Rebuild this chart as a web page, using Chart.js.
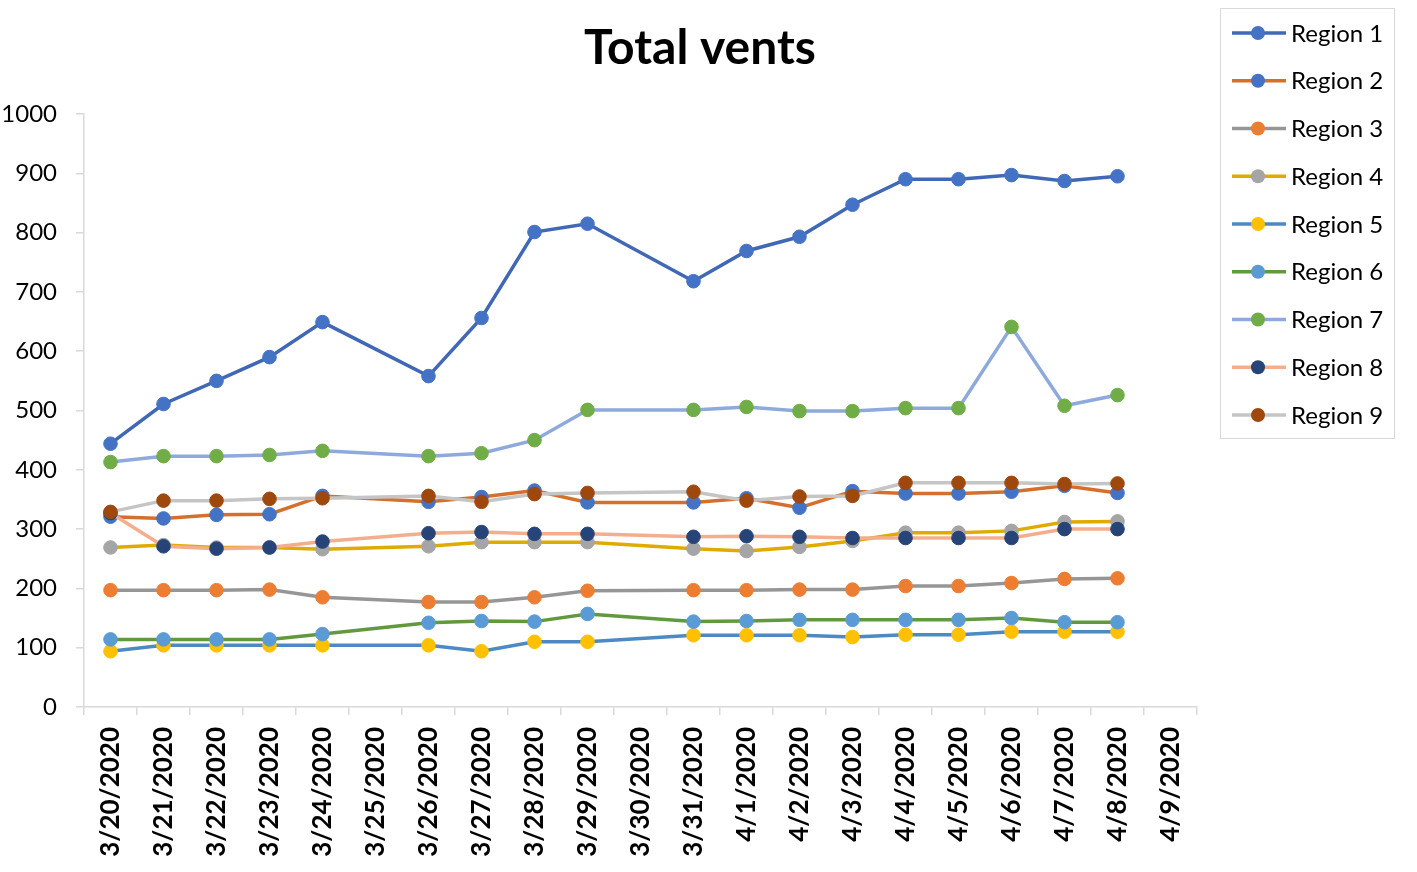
<!DOCTYPE html>
<html>
<head>
<meta charset="utf-8">
<title>Total vents</title>
<script src="https://cdn.jsdelivr.net/npm/chart.js@4.4.1/dist/chart.umd.min.js"></script>
<style>
    body { margin: 0; background: #ffffff; }
    #wrap { width: 1417px; height: 872px; }
</style>
</head>
<body>
<div id="wrap"><canvas id="ventsChart" width="1417" height="872"></canvas></div>
<script>
const chartTitle = "Total vents";

const dates = [
    "3/20/2020", "3/21/2020", "3/22/2020", "3/23/2020", "3/24/2020", "3/25/2020", "3/26/2020",
    "3/27/2020", "3/28/2020", "3/29/2020", "3/30/2020", "3/31/2020", "4/1/2020", "4/2/2020",
    "4/3/2020", "4/4/2020", "4/5/2020", "4/6/2020", "4/7/2020", "4/8/2020", "4/9/2020"
];

const seriesNames = ["Region 1", "Region 2", "Region 3", "Region 4", "Region 5", "Region 6", "Region 7", "Region 8", "Region 9"];

// no data for 3/25, 3/30 and 4/9
const region1 = [444, 511, 550, 590, 649, null, 558, 656, 801, 815, null, 718, 769, 793, 847, 890, 890, 897, 887, 895, null];
const region2 = [321, 318, 324, 325, 356, null, 346, 354, 365, 345, null, 345, 352, 336, 364, 360, 360, 363, 373, 361, null];
const region3 = [197, 197, 197, 198, 185, null, 177, 177, 185, 196, null, 197, 197, 198, 198, 204, 204, 209, 216, 217, null];
const region4 = [269, 273, 269, 269, 266, null, 271, 278, 278, 278, null, 267, 263, 270, 280, 294, 294, 297, 312, 313, null];
const region5 = [94, 104, 104, 104, 104, null, 104, 94, 110, 110, null, 121, 121, 121, 118, 122, 122, 127, 127, 127, null];
const region6 = [114, 114, 114, 114, 123, null, 142, 145, 144, 157, null, 144, 145, 147, 147, 147, 147, 150, 143, 143, null];
const region7 = [413, 423, 423, 425, 432, null, 423, 428, 450, 501, null, 501, 506, 499, 499, 504, 504, 641, 508, 526, null];
const region8 = [327, 271, 267, 269, 279, null, 293, 295, 292, 292, null, 287, 288, 287, 285, 285, 285, 285, 300, 300, null];
const region9 = [329, 348, 348, 351, 352, null, 356, 346, 359, 361, null, 363, 348, 355, 356, 378, 378, 378, 376, 377, null];

const allSeries = [region1, region2, region3, region4, region5, region6, region7, region8, region9];

const lineColors = ["#4068B4", "#D4702C", "#969696", "#E0AB00", "#4D89C2", "#63993D", "#8EA9DB", "#F4AE8D", "#C5C5C5"];
const markerColors = ["#4472C4", "#4472C4", "#ED7D31", "#A5A5A5", "#FFC000", "#5B9BD5", "#70AD47", "#264478", "#9E480E"];

const axisGray = "#D9D9D9";

// title + boxed legend drawn by hand (legend shows line and marker together)
const titleAndLegend = {
    id: "titleAndLegend",
    afterDraw(chart) {
        const ctx = chart.ctx;
        ctx.save();

        ctx.fillStyle = "#000000";
        ctx.font = "bold 48px Lato";
        ctx.textAlign = "center";
        ctx.textBaseline = "alphabetic";
        ctx.fillText(chartTitle, 700, 64);

        ctx.strokeStyle = axisGray;
        ctx.lineWidth = 1;
        ctx.strokeRect(1220.5, 8.5, 174, 430);

        ctx.font = "24px Lato";
        ctx.textAlign = "left";
        ctx.textBaseline = "middle";
        chart.data.datasets.forEach((ds, i) => {
            const y = 33 + i * 47.75;
            ctx.strokeStyle = lineColors[i];
            ctx.lineWidth = 3.5;
            ctx.beginPath();
            ctx.moveTo(1232, y);
            ctx.lineTo(1286, y);
            ctx.stroke();

            ctx.fillStyle = markerColors[i];
            ctx.beginPath();
            ctx.arc(1258, y, 7, 0, Math.PI * 2);
            ctx.fill();

            ctx.fillStyle = "#000000";
            ctx.fillText(ds.label, 1291, y + 1);
        });
        ctx.restore();
    }
};

function buildChart() {
    Chart.defaults.font.family = "Lato";

    const datasets = allSeries.map((values, i) => ({
        label: seriesNames[i],
        data: values,
        borderColor: lineColors[i],
        backgroundColor: markerColors[i],
        borderWidth: 3.5,
        pointRadius: 6.8,
        pointHoverRadius: 6.8,
        pointBackgroundColor: markerColors[i],
        pointBorderColor: markerColors[i],
        pointBorderWidth: 1,
        tension: 0,
        spanGaps: true,
        // later series sit on top, as in the original
        order: allSeries.length - i
    }));

    new Chart(document.getElementById("ventsChart"), {
        type: "line",
        data: {
            labels: dates,
            datasets: datasets
        },
        options: {
            responsive: false,
            animation: false,
            layout: {
                padding: { top: 114, right: 220, bottom: 0, left: 0 }
            },
            plugins: {
                title: { display: false },
                legend: { display: false },
                tooltip: { enabled: false }
            },
            scales: {
                x: {
                    offset: true,
                    grid: {
                        offset: true,
                        drawOnChartArea: false,
                        drawTicks: true,
                        tickLength: 8,
                        color: axisGray,
                        lineWidth: 1.5
                    },
                    border: { color: axisGray, width: 1.5 },
                    ticks: {
                        autoSkip: false,
                        minRotation: 90,
                        maxRotation: 90,
                        padding: 12,
                        color: "#000000",
                        font: { size: 26, weight: "bold" }
                    },
                    afterFit: scale => { scale.height = 165; }
                },
                y: {
                    min: 0,
                    max: 1000,
                    grid: {
                        drawOnChartArea: false,
                        drawTicks: true,
                        tickLength: 8,
                        color: axisGray,
                        lineWidth: 1.5
                    },
                    border: { color: axisGray, width: 1.5 },
                    ticks: {
                        stepSize: 100,
                        padding: 19,
                        color: "#000000",
                        font: { size: 24 },
                        callback: value => String(value)
                    },
                    afterFit: scale => { scale.width = 84; }
                }
            }
        },
        plugins: [titleAndLegend]
    });
}

document.addEventListener("DOMContentLoaded", function () {
    Promise.all([
        document.fonts.load("24px Lato"),
        document.fonts.load("bold 26px Lato")
    ]).then(buildChart, buildChart);
});
</script>
</body>
</html>
